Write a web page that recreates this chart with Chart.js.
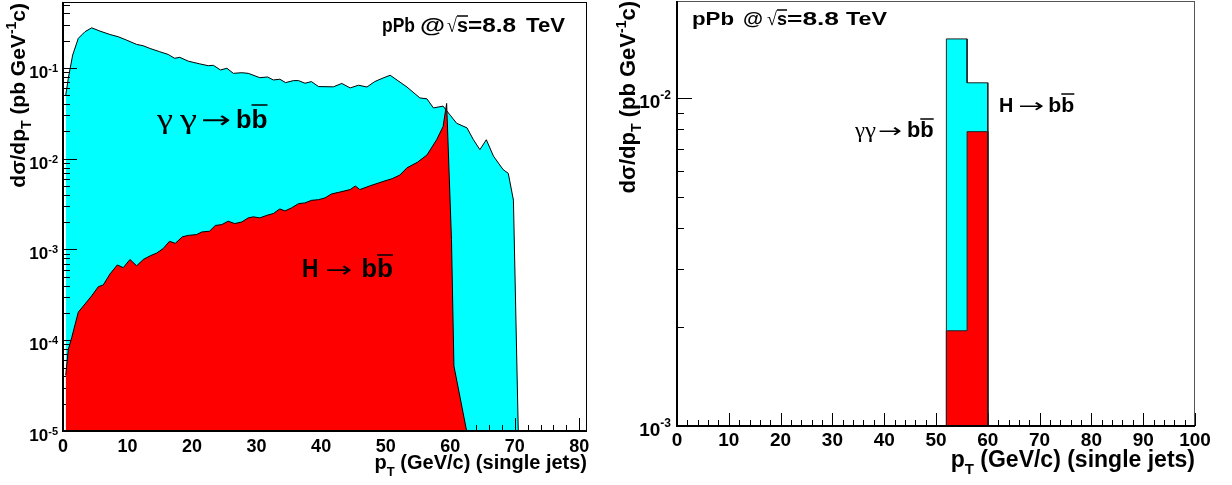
<!DOCTYPE html>
<html>
<head>
<meta charset="UTF-8">
<title>pPb H->bb vs gamma gamma->bb</title>
<script src="https://cdn.jsdelivr.net/npm/chart.js"></script>
<style>
    body { margin: 0; background: #fff; }
    #left { position: absolute; left: 0; top: 0; }
    #right { position: absolute; left: 610px; top: 0; }
</style>
</head>
<body>
<canvas id="left" width="610" height="485"></canvas>
<canvas id="right" width="622" height="485"></canvas>
<script>
// left panel: dsigma/dpT (pb GeV^-1 c), continuous spectra
const ggPt = [0.42, 0.82, 1.5, 2.37, 3.4, 4.45, 5.73, 7.27, 8.55, 9.85, 11.4, 12.4, 13.5, 15.0, 16.3, 17.3, 18.1, 19.4, 21.2, 22.5,
    23.3, 24.4, 25.4, 26.4, 27.7, 28.7, 30.5, 31.7, 32.6, 33.6, 34.5, 35.7, 36.5, 37.5, 38.5, 39.6, 41.9, 43.2, 44.5, 45.8,
    47.1, 48.3, 49.6, 50.7, 53.3, 55.3, 56.4, 57.4, 58.9, 60.0, 61.0, 62.6, 63.6, 64.6, 65.6, 66.7, 68.2, 69.0, 69.8, 70.55];
const ggXsec = [0.050, 0.077, 0.139, 0.212, 0.251, 0.277, 0.255, 0.234, 0.221, 0.203, 0.182, 0.176, 0.164, 0.151, 0.141, 0.128, 0.131, 0.119, 0.111, 0.106,
    0.107, 0.0951, 0.0993, 0.0873, 0.0887, 0.0873, 0.0782, 0.0796, 0.0738, 0.0752, 0.0690, 0.0726, 0.0726, 0.0679, 0.0708, 0.0624, 0.0620, 0.0676, 0.0603, 0.0646,
    0.0617, 0.0708, 0.0776, 0.0832, 0.0617, 0.0468, 0.0457, 0.0363, 0.0380, 0.0302, 0.0246, 0.0219, 0.0162, 0.0126, 0.0162, 0.0107, 0.0076, 0.0069, 0.0035, 0.00001];

const hPt = [0.42, 0.82, 1.35, 2.37, 3.41, 4.45, 5.47, 6.24, 7.28, 8.41, 9.34, 10.38, 11.41, 12.44, 13.5, 14.5, 15.5, 16.5, 17.4, 18.5,
    19.4, 20.7, 21.5, 22.7, 23.6, 24.6, 25.6, 26.6, 27.7, 28.7, 29.5, 30.5, 31.6, 32.6, 33.6, 34.4, 35.4, 36.5, 37.5, 38.5,
    39.6, 40.6, 41.6, 42.7, 44.5, 45.3, 46.0, 47.5, 49.6, 51.0, 52.2, 53.3, 54.9, 56.4, 57.9, 58.9, 59.45, 60.2, 60.58, 62.55];
const hXsec = [4.1e-5, 7.9e-5, 1.07e-4, 2.04e-4, 2.51e-4, 3.09e-4, 3.89e-4, 4.07e-4, 5.37e-4, 6.76e-4, 6.31e-4, 7.76e-4, 6.61e-4, 7.76e-4, 8.51e-4, 9.12e-4, 1.02e-3, 1.23e-3, 1.17e-3, 1.38e-3,
    1.43e-3, 1.46e-3, 1.56e-3, 1.59e-3, 1.84e-3, 1.88e-3, 2.05e-3, 1.93e-3, 2.01e-3, 2.23e-3, 2.29e-3, 2.23e-3, 2.38e-3, 2.49e-3, 2.80e-3, 2.66e-3, 2.87e-3, 3.20e-3, 3.26e-3, 3.48e-3,
    3.54e-3, 3.70e-3, 4.09e-3, 4.26e-3, 4.57e-3, 5.01e-3, 4.57e-3, 5.01e-3, 5.62e-3, 6.03e-3, 6.61e-3, 7.94e-3, 9.12e-3, 0.0110, 0.0162, 0.0226, 0.0407, 1.29e-3, 5.2e-5, 1e-5];

// right panel: histogram with 4 GeV bins
const binEdges = [52, 56, 60];
const ggBins = [0.0151, 0.0111];
const hBins = [0.00195, 0.00788];

// axes
const leftXTicks = [0, 10, 20, 30, 40, 50, 60, 70, 80];
const rightXTicks = [0, 10, 20, 30, 40, 50, 60, 70, 80, 90, 100];
const leftYTicks = [1e-5, 1e-4, 1e-3, 1e-2, 1e-1];
const rightYTicks = [1e-3, 1e-2];

const SANS = '"Liberation Sans", Arial, Helvetica, sans-serif';
const SERIF = '"Liberation Serif", "Times New Roman", serif';
const CYAN = '#00ffff';
const RED = '#ff0000';

function bold(px) { return 'bold ' + px + 'px ' + SANS; }
function serif(px) { return px + 'px ' + SERIF; }
function arrowFont(px) { return px + 'px "DejaVu Sans", sans-serif'; }

function toPoints(xs, ys) {
    return xs.map((x, i) => ({ x: x, y: ys[i] }));
}

// histogram outline from bin edges, closed down to the axis floor
function histPoints(edges, vals, floor) {
    const pts = [{ x: edges[0], y: floor }];
    vals.forEach((v, i) => {
        pts.push({ x: edges[i], y: v });
        pts.push({ x: edges[i + 1], y: v });
    });
    pts.push({ x: edges[edges.length - 1], y: floor });
    return pts;
}

// text made of pieces (sub/superscripts, overlines, fixed widths like ROOT's TLatex)
function drawRich(ctx, x, y, parts, align) {
    let w = 0;
    parts.forEach(p => {
        ctx.font = p.font;
        p.m = ctx.measureText(p.t).width;
        p.w = (p.fw || p.m) + (p.gap || 0);
        w += p.w;
    });
    let cx = align === 'right' ? x - w : (align === 'center' ? x - w / 2 : x);
    ctx.textAlign = 'left';
    ctx.textBaseline = 'alphabetic';
    ctx.fillStyle = '#000';
    ctx.strokeStyle = '#000';
    parts.forEach(p => {
        ctx.font = p.font;
        const tw = p.fw || p.m;
        ctx.save();
        ctx.translate(cx, y + (p.dy || 0));
        ctx.scale(tw / p.m, 1);
        ctx.fillText(p.t, 0, 0);
        ctx.restore();
        if (p.over) {
            ctx.lineWidth = 1.5;
            ctx.beginPath();
            ctx.moveTo(cx, y - p.over);
            ctx.lineTo(cx + tw, y - p.over);
            ctx.stroke();
        }
        cx += p.w;
    });
}

function hline(ctx, x0, x1, y) {
    ctx.beginPath(); ctx.moveTo(x0, y); ctx.lineTo(x1, y); ctx.stroke();
}
function vline(ctx, x, y0, y1) {
    ctx.beginPath(); ctx.moveTo(x, y0); ctx.lineTo(x, y1); ctx.stroke();
}

function drawTicks(chart, c) {
    const ctx = chart.ctx, a = chart.chartArea;
    const xs = chart.scales.x, ys = chart.scales.y;
    ctx.save();
    ctx.strokeStyle = '#000';
    ctx.lineWidth = 1;
    const e0 = Math.floor(Math.log10(ys.min) + 1e-9), e1 = Math.ceil(Math.log10(ys.max));
    for (let e = e0; e <= e1; e++) {
        for (let k = 1; k <= 9; k++) {
            const v = k * Math.pow(10, e);
            if (v < ys.min * 0.999 || v > ys.max) continue;
            const py = Math.round(ys.getPixelForValue(v)) + 0.5;
            hline(ctx, a.left, a.left + (k === 1 ? c.yMajor : c.yMinor), py);
        }
    }
    const n = Math.floor(xs.max / c.xStep + 1e-9);
    for (let i = 0; i <= n; i++) {
        const v = i * c.xStep;
        const px = Math.round(xs.getPixelForValue(v)) + 0.5;
        vline(ctx, px, a.bottom, a.bottom - (v % 10 === 0 ? c.xMajor : c.xMinor));
    }
    ctx.restore();
}

function drawAxes(chart, c) {
    const ctx = chart.ctx, a = chart.chartArea;
    const xs = chart.scales.x, ys = chart.scales.y;
    ctx.save();
    // frame
    ctx.strokeStyle = c.frameColor;
    ctx.lineWidth = 1;
    hline(ctx, a.left, a.right, a.top + 0.5);
    vline(ctx, a.right - 0.5, a.top, a.bottom);
    ctx.strokeStyle = '#000';
    ctx.lineWidth = 2;
    vline(ctx, a.left, a.top, a.bottom + 1);
    hline(ctx, a.left - 1, a.right, a.bottom);

    // x tick labels
    ctx.fillStyle = '#000';
    ctx.font = bold(c.xLabelSize);
    ctx.textAlign = 'center';
    ctx.textBaseline = 'alphabetic';
    c.xTicks.forEach(v => {
        ctx.fillText(String(v), xs.getPixelForValue(v), c.xLabelBase);
    });

    // y tick labels 10^n
    c.yTicks.forEach(v => {
        const py = ys.getPixelForValue(v);
        const ex = String(Math.round(Math.log10(v)));
        drawRich(ctx, a.left - c.yLabelGap, py + c.yLabelDy, [
            { t: '10', font: bold(c.yLabelSize) },
            { t: ex, font: bold(c.yExpSize), dy: -c.yExpRise }
        ], 'right');
    });

    // y title (rotated)
    ctx.save();
    ctx.translate(c.yTitleX, c.yTitleTop);
    ctx.rotate(-Math.PI / 2);
    const s = c.titleSize, ss = Math.round(c.titleSize * 0.65);
    drawRich(ctx, 0, 0, [
        { t: 'd\u03c3/dp', font: bold(s) },
        { t: 'T', font: bold(ss), dy: 6 },
        { t: ' (pb GeV', font: bold(s) },
        { t: '-1', font: bold(ss), dy: -9 },
        { t: 'c)', font: bold(s) }
    ], 'right');
    ctx.restore();

    // x title
    drawRich(ctx, c.xTitleRight, c.xTitleBase, [
        { t: 'p', font: bold(c.xTitleSize) },
        { t: 'T', font: bold(Math.round(c.xTitleSize * 0.65)), dy: 7 },
        { t: ' (GeV/c) (single jets)', font: bold(c.xTitleSize) }
    ], 'right');

    // energy label and process labels
    c.texts.forEach(tx => drawRich(ctx, tx.x, tx.y, tx.parts, 'left'));
    ctx.restore();
}

function rootStyle(c) {
    return {
        id: 'rootStyle',
        beforeDatasetsDraw(chart) {
            if (c.tickAfter < 0) drawTicks(chart, c);
        },
        afterDatasetDraw(chart, args) {
            if (args.index === c.tickAfter) drawTicks(chart, c);
        },
        afterDraw(chart) { drawAxes(chart, c); }
    };
}

function baseOptions(xMax, yMin, yMax, pad) {
    return {
        responsive: false,
        animation: false,
        layout: { padding: pad },
        plugins: { legend: { display: false }, tooltip: { enabled: false } },
        elements: { point: { radius: 0 }, line: { tension: 0 } },
        scales: {
            x: { type: 'linear', min: 0, max: xMax, display: false },
            y: { type: 'logarithmic', min: yMin, max: yMax, display: false }
        }
    };
}

// left: continuous spectra, red drawn on top of cyan
new Chart(document.getElementById('left'), {
    type: 'line',
    data: {
        datasets: [
            { label: 'H -> bb', data: toPoints(hPt, hXsec), borderColor: '#000', borderWidth: 1, backgroundColor: RED, fill: 'start' },
            { label: 'gamma gamma -> bb', data: toPoints(ggPt, ggXsec), borderColor: '#000', borderWidth: 1, backgroundColor: CYAN, fill: 'start' }
        ]
    },
    options: baseOptions(81.2, 1e-5, 0.5335, { left: 63, top: 2, right: 23, bottom: 54 }),
    plugins: [rootStyle({
        tickAfter: 1, yMajor: 14, yMinor: 7, xMajor: 13, xMinor: 6, xStep: 2,
        frameColor: '#000',
        xTicks: leftXTicks, xLabelSize: 18, xLabelBase: 452,
        yTicks: leftYTicks, yLabelSize: 17, yExpSize: 11, yExpRise: 6, yLabelGap: 5, yLabelDy: 10,
        yTitleX: 25, yTitleTop: 3, titleSize: 21,
        xTitleRight: 587, xTitleBase: 469, xTitleSize: 20,
        texts: [
            { x: 382, y: 32, parts: [
                { t: 'pPb', font: bold(20), fw: 33, gap: 5 },
                { t: '@', font: bold(20), fw: 25, gap: 2 },
                { t: '\u221a', font: serif(20), fw: 10 },
                { t: 's', font: bold(20), fw: 11, over: 16 },
                { t: '=8.8', font: bold(20), fw: 48, gap: 10 },
                { t: 'TeV', font: bold(20), fw: 39 }
            ] },
            { x: 157, y: 128, parts: [
                { t: '\u03b3', font: serif(28), fw: 16, gap: 7 },
                { t: '\u03b3', font: serif(28), fw: 17, gap: 4 },
                { t: '\u2192', font: arrowFont(24), fw: 30, gap: 5 },
                { t: 'b', font: bold(26), fw: 15.5 },
                { t: 'b', font: bold(26), fw: 16, over: 23 }
            ] },
            { x: 302, y: 277, parts: [
                { t: 'H', font: bold(26), fw: 16.5, gap: 7 },
                { t: '\u2192', font: arrowFont(22), fw: 27, gap: 9 },
                { t: 'b', font: bold(26), fw: 15.5 },
                { t: 'b', font: bold(26), fw: 16, over: 22 }
            ] }
        ]
    })]
});

// right: 4 GeV histogram bins
new Chart(document.getElementById('right'), {
    type: 'line',
    data: {
        datasets: [
            { label: 'H -> bb', data: histPoints(binEdges, hBins, 1e-3), borderColor: '#222', borderWidth: 1, backgroundColor: RED, fill: 'start' },
            { label: 'gamma gamma -> bb', data: histPoints(binEdges, ggBins, 1e-3), borderColor: '#222', borderWidth: 1, backgroundColor: CYAN, fill: 'start' }
        ]
    },
    options: baseOptions(100, 1e-3, 0.0197, { left: 67, top: 1, right: 37, bottom: 59 }),
    plugins: [rootStyle({
        tickAfter: -1, yMajor: 15, yMinor: 7, xMajor: 13, xMinor: 6, xStep: 2,
        frameColor: '#555',
        xTicks: rightXTicks, xLabelSize: 19, xLabelBase: 446,
        yTicks: rightYTicks, yLabelSize: 19, yExpSize: 12, yExpRise: 9, yLabelGap: 6, yLabelDy: 10,
        yTitleX: 25, yTitleTop: 1, titleSize: 22,
        xTitleRight: 585, xTitleBase: 467, xTitleSize: 23,
        texts: [
            { x: 82, y: 25, parts: [
                { t: 'pPb', font: bold(19), fw: 42, gap: 9 },
                { t: '@', font: bold(19), fw: 20, gap: 4 },
                { t: '\u221a', font: serif(19), fw: 10 },
                { t: 's', font: bold(19), fw: 10, over: 15 },
                { t: '=8.8', font: bold(19), fw: 52, gap: 7 },
                { t: 'TeV', font: bold(19), fw: 41 }
            ] },
            { x: 245, y: 137, parts: [
                { t: '\u03b3', font: serif(22), fw: 10 },
                { t: '\u03b3', font: serif(22), fw: 11, gap: 2 },
                { t: '\u2192', font: arrowFont(19), fw: 24, gap: 5 },
                { t: 'b', font: bold(22), fw: 13.3 },
                { t: 'b', font: bold(22), fw: 13.4, over: 18 }
            ] },
            { x: 389, y: 112, parts: [
                { t: 'H', font: bold(21), fw: 14.3, gap: 5 },
                { t: '\u2192', font: arrowFont(19), fw: 26, gap: 4 },
                { t: 'b', font: bold(21), fw: 13 },
                { t: 'b', font: bold(21), fw: 13, over: 18 }
            ] }
        ]
    })]
});
</script>
</body>
</html>
